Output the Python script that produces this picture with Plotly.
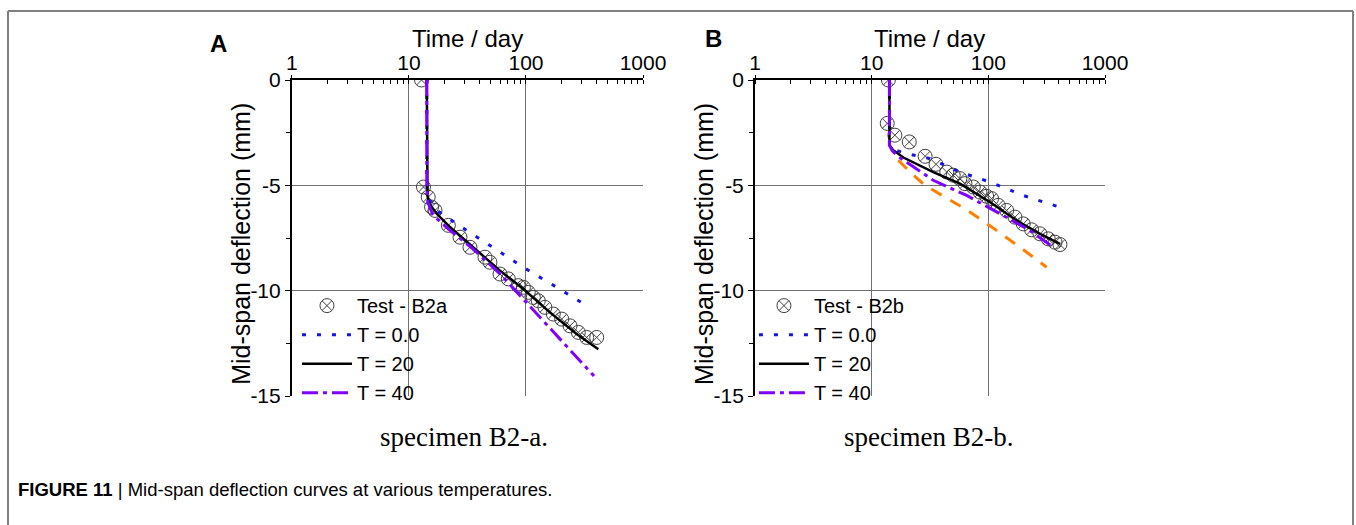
import plotly.graph_objects as go

# ---- Panel A (specimen B2-a) ----
a_test_t = [12.8, 13.3, 14.6, 15.6, 16.7, 21.7, 27.3, 33.2, 44.6, 49.2, 60, 70.6, 86, 95,
            104.7, 115.5, 127.4, 145, 171, 202, 238, 280, 330, 402]
a_test_d = [0, -5.08, -5.56, -6.03, -6.19, -6.90, -7.46, -7.94, -8.41, -8.65, -9.21, -9.44,
            -9.76, -9.84, -10.08, -10.32, -10.48, -10.79, -11.11, -11.35, -11.67, -11.98,
            -12.22, -12.22]

a_t0_t = [14.2, 14.2, 14.6, 16.5, 18, 25.6, 49.3, 94.9, 183, 341]
a_t0_d = [0, -5.0, -5.6, -6.1, -6.25, -6.83, -7.86, -8.89, -9.84, -10.76]

a_t20_t = [14.2, 14.2, 14.4, 14.9, 17.3, 22.4, 35.4, 60, 95, 160, 271, 415]
a_t20_d = [0, -5.0, -5.5, -5.87, -6.35, -6.98, -7.94, -9.05, -9.92, -11.03, -12.06, -12.78]

a_t40_t = [14.2, 14.2, 14.5, 16, 22, 35, 60, 95, 150, 250, 381]
a_t40_d = [0, -5.0, -5.8, -6.4, -7.1, -8.0, -9.2, -10.4, -11.6, -12.9, -14.05]

# ---- Panel B (specimen B2-b) ----
b_test_t = [13.9, 13.6, 15.8, 21, 28.7, 35.6, 44, 50, 57, 63, 74.3, 84.8, 96.7, 106.6,
            121.6, 143.5, 169, 199, 235, 277, 326, 373, 411]
b_test_d = [0, -2.06, -2.62, -2.94, -3.62, -4.0, -4.37, -4.52, -4.68, -4.92, -5.08, -5.32,
            -5.52, -5.63, -5.95, -6.19, -6.51, -6.83, -7.11, -7.30, -7.54, -7.70, -7.81]

b_t0_t = [14.2, 14.2, 15.5, 20, 31.6, 57, 103, 199, 390]
b_t0_d = [0, -3.1, -3.3, -3.5, -3.73, -4.37, -4.84, -5.48, -6.0]

b_t20_t = [14.2, 14.2, 15.3, 18.7, 33.7, 57.1, 103, 175, 277, 411]
b_t20_d = [0, -3.1, -3.33, -3.68, -4.37, -4.92, -5.79, -6.67, -7.30, -7.78]

b_t40_t = [14.2, 14.2, 15.0, 16.3, 33.7, 65.2, 126, 227, 360]
b_t40_d = [0, -3.1, -3.35, -3.57, -4.76, -5.48, -6.35, -7.14, -7.94]

b_orange_t = [16.9, 21.4, 28.6, 63, 107, 187, 316]
b_orange_d = [-3.81, -4.37, -5.0, -6.11, -6.98, -7.94, -8.89]

x_ticks = [1, 10, 100, 1000]
y_ticks = [0, -5, -10, -15]

FONT = "Arial, Liberation Sans, sans-serif"
SERIF = "Liberation Serif, Times New Roman, serif"
BLUE = "#1414e6"
PURPLE = "#7f00ff"
ORANGE = "#ff8000"
MARK = "#404040"

fig = go.Figure()


def add_panel(xa, ya, leg, test_t, test_d, test_name, t0, t20, t40):
    fig.add_trace(go.Scatter(
        x=test_t, y=test_d, mode="markers", name=test_name, legend=leg,
        xaxis=xa, yaxis=ya,
        marker=dict(symbol="circle-x-open", size=14, color=MARK, line=dict(width=1)),
    ))
    fig.add_trace(go.Scatter(
        x=t0[0], y=t0[1], mode="lines", name="T = 0.0", legend=leg, xaxis=xa, yaxis=ya,
        line=dict(color=BLUE, width=3, dash="4px,11px"),
    ))
    fig.add_trace(go.Scatter(
        x=t20[0], y=t20[1], mode="lines", name="T = 20", legend=leg, xaxis=xa, yaxis=ya,
        line=dict(color="black", width=2.5),
    ))
    fig.add_trace(go.Scatter(
        x=t40[0], y=t40[1], mode="lines", name="T = 40", legend=leg, xaxis=xa, yaxis=ya,
        line=dict(color=PURPLE, width=3, dash="16px,5px,4px,5px"),
    ))


add_panel("x", "y", "legend", a_test_t, a_test_d, "Test - B2a",
          (a_t0_t, a_t0_d), (a_t20_t, a_t20_d), (a_t40_t, a_t40_d))
add_panel("x2", "y2", "legend2", b_test_t, b_test_d, "Test - B2b",
          (b_t0_t, b_t0_d), (b_t20_t, b_t20_d), (b_t40_t, b_t40_d))
fig.add_trace(go.Scatter(
    x=b_orange_t, y=b_orange_d, mode="lines", showlegend=False, xaxis="x2", yaxis="y2",
    line=dict(color=ORANGE, width=3, dash="12px,10px"),
))

xaxis_style = dict(
    type="log", range=[0, 3], side="top", tickvals=x_ticks, ticktext=[str(v) for v in x_ticks],
    showline=True, linecolor="black", linewidth=2, ticks="outside", ticklen=3,
    ticklabelstandoff=-3,
    tickcolor="black", showgrid=True, gridcolor="#707070", gridwidth=1, zeroline=False,
    automargin=False,
    tickfont=dict(family=FONT, size=21, color="black"),
    minor=dict(ticks="inside", ticklen=4, tickcolor="black", dtick="D1", showgrid=False),
)
yaxis_style = dict(
    range=[-15, 0], tickvals=y_ticks, ticktext=[str(v) for v in y_ticks],
    showline=True, linecolor="black", linewidth=2, ticks="outside", ticklen=5,
    tickcolor="black", showgrid=True, gridcolor="#707070", gridwidth=1, zeroline=False,
    automargin=False,
    tickfont=dict(family=FONT, size=21, color="black"),
    minor=dict(ticks="outside", ticklen=4, tickcolor="black", dtick=2.5, showgrid=False),
)

legend_style = dict(
    font=dict(family=FONT, size=20, color="black"), bgcolor="rgba(0,0,0,0)",
    yanchor="top", xanchor="left", itemwidth=50, tracegroupgap=0,
)

fig.update_layout(
    width=1356, height=525,
    margin=dict(l=0, r=0, t=0, b=0, autoexpand=False),
    paper_bgcolor="white", plot_bgcolor="white",
    xaxis=dict(domain=[0.2153, 0.4742], anchor="y", **xaxis_style),
    yaxis=dict(domain=[0.2457, 0.8476], anchor="x", **yaxis_style),
    xaxis2=dict(domain=[0.5568, 0.8149], anchor="y2", **xaxis_style),
    yaxis2=dict(domain=[0.2457, 0.8476], anchor="x2", **yaxis_style),
    legend=dict(x=0.219, y=0.455, **legend_style),
    legend2=dict(x=0.556, y=0.455, **legend_style),
    font=dict(family=FONT, color="black"),
)

# outer frame of the figure
for x0, y0, x1, y1 in [(0.0059, 0.979, 0.9978, 0.979), (0.0059, 0.979, 0.0059, 0.0),
                       (0.9978, 0.979, 0.9978, 0.0)]:
    fig.add_shape(type="line", xref="paper", yref="paper", x0=x0, y0=y0, x1=x1, y1=y1,
                  line=dict(color="#808080", width=2))

annotations = [
    dict(text="<b>A</b>", x=0.161, y=0.918, size=24, family=FONT, angle=0),
    dict(text="<b>B</b>", x=0.526, y=0.927, size=24, family=FONT, angle=0),
    dict(text="Time / day", x=0.3448, y=0.927, size=24, family=FONT, angle=0),
    dict(text="Time / day", x=0.6858, y=0.927, size=24, family=FONT, angle=0),
    dict(text="Mid-span deflection (mm)", x=0.1775, y=0.535, size=25, family=FONT, angle=-90),
    dict(text="Mid-span deflection (mm)", x=0.519, y=0.535, size=25, family=FONT, angle=-90),
    dict(text="specimen B2-a.", x=0.342, y=0.168, size=27, family=SERIF, angle=0),
    dict(text="specimen B2-b.", x=0.685, y=0.168, size=27, family=SERIF, angle=0),
]
for a in annotations:
    fig.add_annotation(text=a["text"], x=a["x"], y=a["y"], xref="paper", yref="paper",
                       showarrow=False, xanchor="center", yanchor="middle",
                       textangle=a["angle"],
                       font=dict(family=a["family"], size=a["size"], color="black"))

fig.add_annotation(
    text="<b>FIGURE 11</b> | Mid-span deflection curves at various temperatures.",
    x=0.0115, y=0.067, xref="paper", yref="paper", showarrow=False,
    xanchor="left", yanchor="middle",
    font=dict(family=FONT, size=18.5, color="black"),
)

fig.write_html("out.html", post_script="document.body.style.margin='0px';",
               config={"displayModeBar": False})
